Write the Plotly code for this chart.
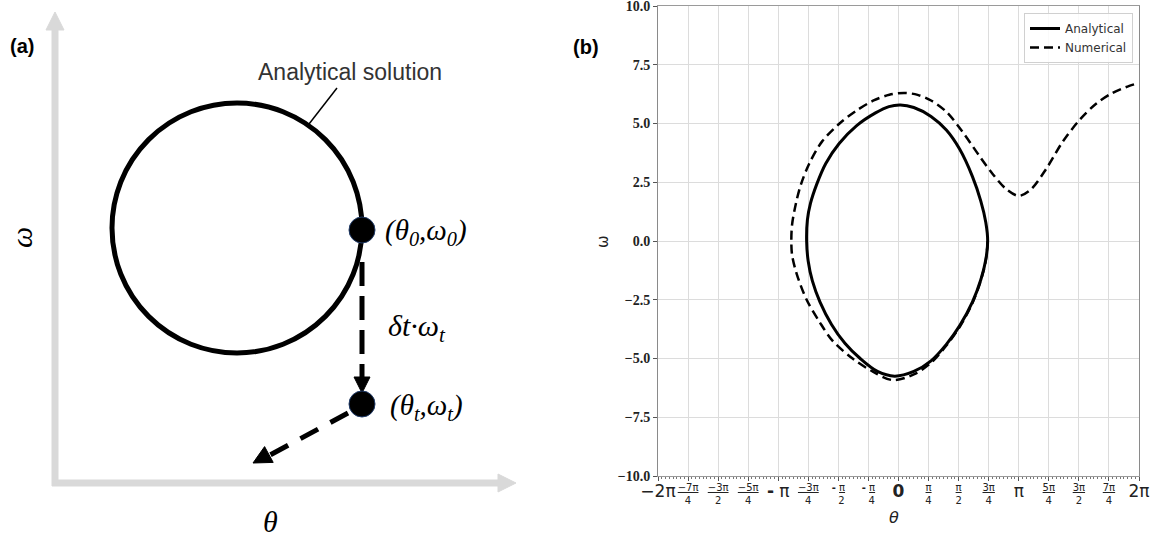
import numpy as np
import plotly.graph_objects as go

PI = np.pi

# ---- phase-space data (theta in rad, omega in rad/s) ----
analytical_theta = [2.33, 2.28, 2.15, 1.93, 1.60, 1.25, 0.85, 0.40, -0.10, -0.55, -1.00, -1.40,
                    -1.75, -2.05, -2.25, -2.36, -2.40, -2.38, -2.30, -2.14, -1.90, -1.55, -1.10,
                    -0.60, -0.25, 0.05, 0.40, 0.85, 1.25, 1.60, 1.93, 2.15, 2.28, 2.33]
analytical_omega = [0.0, -0.8, -1.65, -2.6, -3.6, -4.4, -5.1, -5.55, -5.75, -5.55, -5.0, -4.35,
                    -3.55, -2.6, -1.7, -0.85, 0.0, 0.9, 1.6, 2.4, 3.3, 4.15, 4.9,
                    5.45, 5.72, 5.79, 5.68, 5.3, 4.72, 3.9, 2.75, 1.7, 0.8, 0.0]

numerical_theta = [2.33, 2.28, 2.15, 1.93, 1.60, 1.25, 0.85, 0.40, -0.15, -0.68, -1.20, -1.72,
                   -2.06, -2.40, -2.66, -2.78, -2.80, -2.78, -2.68, -2.55, -2.33, -1.99, -1.54,
                   -1.10, -0.65, -0.24, 0.15, 0.50, 0.85, 1.25, 1.67, 2.10, 2.46, 2.82, 3.14,
                   3.46, 3.87, 4.28, 4.73, 5.17, 5.59, 6.03, 6.28]
numerical_omega = [0.0, -0.82, -1.68, -2.65, -3.65, -4.45, -5.18, -5.68, -5.92, -5.55, -5.0, -4.25,
                   -3.45, -2.5, -1.4, -0.6, 0.0, 0.7, 1.6, 2.4, 3.3, 4.25, 5.0,
                   5.55, 5.98, 6.22, 6.30, 6.22, 5.98, 5.5, 4.65, 3.65, 2.85, 2.2, 1.92,
                   2.2, 3.1, 4.2, 5.15, 5.85, 6.3, 6.6, 6.72]

# ---- axis ticks: quarter multiples of pi ----
x_tick_quarters = list(range(-8, 9))
# fractional labels (blank where a whole multiple of pi gets a large label)
x_frac_text = ["", "<u>−7π</u><br>4", "<u>−3π</u><br>2", "<u>−5π</u><br>4", "",
               "<u>−3π</u><br>4", "<b>-</b> <u>π</u><br>  2", "<b>-</b> <u>π</u><br>  4", "",
               "<u>π</u><br>4", "<u>π</u><br>2", "<u>3π</u><br>4", "",
               "<u>5π</u><br>4", "<u>3π</u><br>2", "<u>7π</u><br>4", ""]
x_whole_quarters = [-8, -4, 0, 4, 8]
x_whole_text = ["−2π", "<b>-</b> π", "<b>0</b>", "π", "2π"]

y_tick_vals = [-10, -7.5, -5, -2.5, 0, 2.5, 5, 7.5, 10]
y_tick_text = ["<b>−10.0</b>", "<b>−7.5</b>", "<b>−5.0</b>", "<b>−2.5</b>", "<b>0.0</b>",
               "<b>2.5</b>", "<b>5.0</b>", "<b>7.5</b>", "<b>10.0</b>"]

W, H = 1153, 537

fig = go.Figure()
fig.add_trace(go.Scatter(x=analytical_theta, y=analytical_omega, mode="lines",
                         name="Analytical", line=dict(color="black", width=3, shape="spline",
                                                      smoothing=0.9),
                         xaxis="x", yaxis="y"))
fig.add_trace(go.Scatter(x=numerical_theta, y=numerical_omega, mode="lines",
                         name="Numerical", line=dict(color="black", width=2.5, dash="9px,5px",
                                                     shape="spline", smoothing=0.9),
                         xaxis="x", yaxis="y"))
# empty trace so the overlaid label axis for whole multiples of pi is drawn
fig.add_trace(go.Scatter(x=[], y=[], mode="lines", showlegend=False, hoverinfo="skip",
                         xaxis="x3", yaxis="y"))

# ---- schematic panel (a): drawn in a pixel-like coordinate frame ----
GREY = "#d9d9d9"
shapes = []
ann = []


def sx(**kw):
    d = dict(xref="x2", yref="y2")
    d.update(kw)
    return d


# grey coordinate arrows
shapes.append(sx(type="line", x0=55, y0=486, x1=55, y1=28, line=dict(color=GREY, width=7)))
shapes.append(sx(type="path", path="M 46 30 L 55 12 L 64 30 Z", fillcolor=GREY,
                 line=dict(color=GREY, width=1)))
shapes.append(sx(type="line", x0=52, y0=483, x1=500, y1=483, line=dict(color=GREY, width=7)))
shapes.append(sx(type="path", path="M 498 474 L 516 483 L 498 492 Z", fillcolor=GREY,
                 line=dict(color=GREY, width=1)))

# analytical solution circle
shapes.append(sx(type="circle", x0=112, y0=103, x1=362, y1=353,
                 line=dict(color="black", width=5)))
# leader line to the label
shapes.append(sx(type="line", x0=337, y0=88, x1=309, y1=124, line=dict(color="black", width=1.5)))

# vertical dashed step
shapes.append(sx(type="line", x0=362, y0=262, x1=362, y1=378,
                 line=dict(color="black", width=5, dash="24px,10px")))
shapes.append(sx(type="path", path="M 354 377 L 362 393 L 370 377 Z", fillcolor="black",
                 line=dict(color="black", width=1)))
# diagonal dashed arrow
shapes.append(sx(type="line", x0=348, y0=413, x1=270, y1=455,
                 line=dict(color="black", width=5, dash="20px,14px")))
shapes.append(sx(type="path", path="M 253 463 L 273.2 462.4 L 264.6 446.6 Z", fillcolor="black",
                 line=dict(color="black", width=1)))

# state points
for cy in (230, 404):
    shapes.append(sx(type="circle", x0=349, y0=cy - 13, x1=375, y1=cy + 13,
                     fillcolor="black", line=dict(color="#1f3a68", width=1)))

serif = "Liberation Serif"
C = dict(xanchor="center", yanchor="middle", showarrow=False)
ann.append(dict(xref="x2", yref="y2", x=350, y=72, text="Analytical solution",
                font=dict(family="Liberation Sans", size=23, color="#333"), **C))
ann.append(dict(xref="x2", yref="y2", x=426, y=232,
                text="<i>(θ<sub>0</sub>,ω<sub>0</sub>)</i>",
                font=dict(family=serif, size=29, color="black"), **C))
ann.append(dict(xref="x2", yref="y2", x=417, y=328, text="<i>δt·ω<sub>t</sub></i>",
                font=dict(family=serif, size=30, color="black"), **C))
ann.append(dict(xref="x2", yref="y2", x=426, y=407,
                text="<i>(θ<sub>t</sub>,ω<sub>t</sub>)</i>",
                font=dict(family=serif, size=29, color="black"), **C))
ann.append(dict(xref="x2", yref="y2", x=21, y=238, text="<i>ω</i>", textangle=-90,
                font=dict(family=serif, size=30, color="black"), **C))
ann.append(dict(xref="x2", yref="y2", x=270, y=521, text="<i>θ</i>",
                font=dict(family=serif, size=30, color="black"), **C))
ann.append(dict(xref="x2", yref="y2", x=22, y=46, text="<b>(a)</b>",
                font=dict(family="Liberation Sans", size=20, color="black"), **C))

# panel (b) labels
ann.append(dict(xref="paper", yref="paper", x=586 / W, y=1 - 47 / H, text="<b>(b)</b>",
                font=dict(family="Liberation Sans", size=20, color="black"), **C))
ann.append(dict(xref="paper", yref="paper", x=603 / W, y=1 - 242 / H, text="ω",
                textangle=-90, font=dict(family="DejaVu Sans", size=15, color="#222"), **C))
ann.append(dict(xref="paper", yref="paper", x=894 / W, y=1 - 517 / H, text="<i>θ</i>",
                font=dict(family="DejaVu Sans", size=16, color="#222"), **C))

X_DOMAIN = [658 / W, 1139 / W]
fig.update_layout(
    width=W, height=H,
    margin=dict(l=0, r=0, t=0, b=0, autoexpand=False),
    paper_bgcolor="white", plot_bgcolor="white",
    showlegend=True,
    legend=dict(x=1133 / W, xanchor="right", y=1 - 13 / H, yanchor="top",
                bgcolor="rgba(255,255,255,0.85)", bordercolor="#d0d0d0", borderwidth=1,
                font=dict(family="DejaVu Sans", size=12, color="#333"),
                tracegroupgap=0, itemwidth=30),
    xaxis=dict(domain=X_DOMAIN, range=[-2 * PI, 2 * PI], anchor="y",
               automargin=False, ticklabeloverflow="allow",
               tickvals=[k * PI / 4 for k in x_tick_quarters], ticktext=x_frac_text,
               tickangle=0, ticklabelstandoff=-2,
               tickfont=dict(family="DejaVu Sans", size=10, color="#222"),
               showgrid=True, gridcolor="#dcdcdc", gridwidth=1, zeroline=False,
               showline=True, linecolor="#9a9a9a", linewidth=1, mirror=True,
               ticks="outside", ticklen=4, tickcolor="#555",
               minor=dict(dtick=PI / 32, tick0=0, ticks="outside", ticklen=2,
                          tickcolor="#777", showgrid=False)),
    xaxis3=dict(domain=X_DOMAIN, range=[-2 * PI, 2 * PI], anchor="y", overlaying="x",
                side="bottom", automargin=False, ticklabeloverflow="allow",
                tickvals=[k * PI / 4 for k in x_whole_quarters], ticktext=x_whole_text,
                tickangle=0, ticks="", ticklabelstandoff=3,
                tickfont=dict(family="DejaVu Sans", size=17, color="#222"),
                showgrid=False, zeroline=False, showline=False, fixedrange=True),
    yaxis=dict(domain=[1 - 476 / H, 1 - 6 / H], range=[-10, 10], anchor="x",
               automargin=False, ticklabeloverflow="allow",
               tickvals=y_tick_vals, ticktext=y_tick_text,
               tickfont=dict(family=serif, size=14, color="#222"),
               showgrid=True, gridcolor="#dcdcdc", gridwidth=1, zeroline=False,
               showline=True, linecolor="#8a8a8a", linewidth=1, mirror=True,
               ticks="outside", ticklen=4, tickcolor="#555"),
    xaxis2=dict(domain=[0, 576.5 / W], range=[0, 576.5], visible=False, fixedrange=True,
                anchor="y2", automargin=False),
    yaxis2=dict(domain=[0, 1], range=[H, 0], visible=False, fixedrange=True, anchor="x2",
                automargin=False),
    shapes=shapes,
    annotations=ann,
)

fig.write_html("out.html")
